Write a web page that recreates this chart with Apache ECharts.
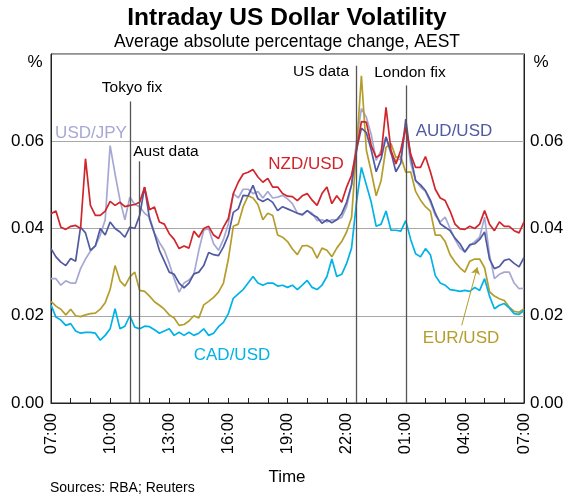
<!DOCTYPE html>
<html style="height: 100%">
<head>
    <meta charset="utf-8">
    <title>Intraday US Dollar Volatility</title>
    <script src="https://cdn.jsdelivr.net/npm/echarts@6/dist/echarts.min.js"></script>
    <style>
        html, body { margin: 0; padding: 0; background: #fff; }
        #container { width: 573px; height: 496px; }
    </style>
</head>
<body>
<div id="container"></div>
<script>
    // hours after 07:00 AEST, one point every 15 minutes
    var hours = [];
    for (var i = 0; i <= 96; i++) hours.push(i / 4);

    // average absolute percentage change
    var nzdUsd = [0.0434,0.044,0.0403,0.0398,0.0405,0.0407,0.04,0.056,0.0453,0.043,
        0.043,0.044,0.0462,0.0453,0.046,0.045,0.0453,0.0455,0.046,0.0495,
        0.0443,0.0449,0.0415,0.041,0.0388,0.0375,0.0354,0.036,0.0355,0.0394,
        0.038,0.04,0.0405,0.0385,0.0377,0.0403,0.0423,0.048,0.0506,0.0525,
        0.0529,0.0535,0.0518,0.0506,0.0515,0.0495,0.0495,0.048,0.0474,0.0473,
        0.0464,0.0475,0.048,0.0465,0.0453,0.048,0.0495,0.0457,0.0475,0.046,
        0.0495,0.0522,0.058,0.0645,0.0644,0.059,0.0563,0.057,0.0678,0.0579,
        0.0548,0.058,0.0632,0.057,0.054,0.054,0.0565,0.053,0.049,0.047,
        0.0464,0.044,0.041,0.0399,0.0398,0.0405,0.04,0.041,0.0441,0.041,
        0.0395,0.0415,0.0405,0.0405,0.0395,0.039,0.0415];
    var audUsd = [0.0354,0.0335,0.0323,0.0315,0.0331,0.0325,0.0403,0.039,0.035,0.036,
        0.04,0.0385,0.0415,0.04,0.0392,0.038,0.0403,0.04,0.043,0.0495,
        0.0422,0.0388,0.035,0.0325,0.03,0.0295,0.0275,0.0264,0.0275,0.0296,
        0.03,0.0315,0.0345,0.034,0.0338,0.0358,0.0385,0.0437,0.0445,0.0476,
        0.0475,0.0499,0.0468,0.0462,0.0468,0.046,0.0441,0.045,0.0445,0.044,
        0.0435,0.0432,0.0441,0.0432,0.0426,0.0412,0.042,0.0413,0.042,0.0434,
        0.046,0.05,0.058,0.063,0.062,0.058,0.053,0.056,0.061,0.0575,
        0.053,0.055,0.0651,0.0565,0.051,0.05,0.0487,0.0465,0.0435,0.0411,
        0.0403,0.0395,0.0378,0.0365,0.0346,0.0363,0.0365,0.0375,0.0392,0.033,
        0.0308,0.0313,0.0327,0.033,0.032,0.0312,0.0334];
    var usdJpy = [0.0285,0.0285,0.027,0.028,0.0275,0.0275,0.0308,0.033,0.0348,0.036,
        0.0385,0.042,0.059,0.0525,0.0465,0.042,0.0472,0.0455,0.045,0.0435,
        0.0426,0.039,0.0368,0.035,0.032,0.0285,0.0254,0.0275,0.0282,0.0295,
        0.035,0.0396,0.04,0.0365,0.035,0.0375,0.0411,0.048,0.047,0.049,
        0.049,0.048,0.0485,0.047,0.0485,0.047,0.0472,0.0476,0.0468,0.0457,
        0.0435,0.043,0.0441,0.0435,0.0418,0.042,0.0415,0.042,0.042,0.0425,
        0.045,0.05,0.06,0.0675,0.0655,0.0615,0.0556,0.0579,0.061,0.057,
        0.0556,0.056,0.0632,0.055,0.051,0.0495,0.0485,0.046,0.043,0.0415,
        0.0426,0.04,0.0375,0.0355,0.0346,0.036,0.037,0.038,0.0426,0.034,
        0.0285,0.0295,0.03,0.03,0.0275,0.0262,0.0263];
    var eurUsd = [0.0233,0.0222,0.0215,0.0202,0.0215,0.02,0.0198,0.0202,0.0205,0.0206,
        0.0215,0.023,0.026,0.0315,0.028,0.0268,0.0289,0.03,0.0258,0.0256,
        0.0245,0.0232,0.0224,0.0215,0.0202,0.0195,0.0178,0.018,0.0188,0.02,
        0.0195,0.0225,0.0233,0.0242,0.0254,0.0275,0.033,0.0405,0.041,0.045,
        0.0475,0.047,0.0455,0.042,0.0435,0.043,0.0385,0.038,0.037,0.0353,
        0.034,0.036,0.0361,0.0355,0.0332,0.0355,0.035,0.0335,0.0355,0.037,
        0.0392,0.0425,0.058,0.075,0.058,0.053,0.0475,0.051,0.0586,0.0595,
        0.0563,0.0565,0.0529,0.053,0.0485,0.0465,0.045,0.044,0.0385,0.0385,
        0.037,0.034,0.0323,0.031,0.03,0.0325,0.033,0.033,0.031,0.0255,
        0.0245,0.0239,0.0235,0.022,0.021,0.0208,0.0216];
    var cadUsd = [0.0225,0.0197,0.019,0.0178,0.0182,0.0165,0.016,0.0162,0.0162,0.016,
        0.0144,0.0155,0.017,0.0216,0.017,0.0176,0.02,0.0174,0.017,0.0176,
        0.0175,0.0168,0.016,0.0165,0.017,0.0155,0.0162,0.0155,0.0162,0.0155,
        0.016,0.017,0.0155,0.016,0.0175,0.0185,0.0205,0.024,0.025,0.026,
        0.0275,0.029,0.0275,0.027,0.0275,0.0275,0.0268,0.027,0.0265,0.027,
        0.026,0.027,0.0281,0.0265,0.026,0.027,0.029,0.033,0.029,0.0295,
        0.032,0.0355,0.046,0.054,0.05,0.046,0.0405,0.041,0.044,0.0396,
        0.0396,0.0394,0.0418,0.0375,0.0342,0.0335,0.0354,0.034,0.0292,0.0275,
        0.027,0.026,0.0258,0.0256,0.0258,0.0256,0.0265,0.0258,0.0285,0.0245,
        0.0216,0.0224,0.0228,0.0218,0.0205,0.0203,0.0212];

    // event markers: hours after 07:00 and where each line starts
    var eventNames = ['Tokyo fix', 'Aust data', 'US data', 'London fix'];
    var eventHours = [4, 4.5, 15.5, 18];
    var eventTops = [0.0691, 0.0554, 0.0773, 0.0728];

    var yTicks = [0, 0.02, 0.04, 0.06, 0.08];

    var font = "'Liberation Sans', Arial, sans-serif";

    function pairs(vals) {
        return vals.map(function (v, k) { return [hours[k], v]; });
    }
    function hourLabel(v) {
        if (v % 3 !== 0) return '';
        var h = (7 + v) % 24;
        return (h < 10 ? '0' : '') + h + ':00';
    }
    function yLabel(v) {
        if (Math.abs(v - yTicks[yTicks.length - 1]) < 1e-9) return '';
        return v.toFixed(2);
    }

    var seriesDefs = [
        {name: 'USD/JPY', data: usdJpy, color: '#a6a8d4'},
        {name: 'EUR/USD', data: eurUsd, color: '#b59d2c'},
        {name: 'CAD/USD', data: cadUsd, color: '#00b2e6'},
        {name: 'AUD/USD', data: audUsd, color: '#505aa0'},
        {name: 'NZD/USD', data: nzdUsd, color: '#d1242b'}
    ];

    var series = seriesDefs.map(function (s) {
        return {
            name: s.name,
            type: 'line',
            data: pairs(s.data),
            showSymbol: false,
            lineStyle: {color: s.color, width: 1.7},
            itemStyle: {color: s.color},
            silent: true
        };
    });

    // vertical event lines
    series.push({
        type: 'line',
        data: [],
        silent: true,
        markLine: {
            silent: true,
            symbol: ['none', 'none'],
            label: {show: false},
            lineStyle: {color: '#555', width: 1.3, type: 'solid'},
            data: eventHours.map(function (h, k) {
                return [{coord: [h, eventTops[k]]}, {coord: [h, 0]}];
            })
        }
    });
    // EUR/USD pointer arrow
    series.push({
        type: 'line',
        data: [],
        silent: true,
        markLine: {
            silent: true,
            symbol: ['none', 'arrow'],
            symbolSize: 7,
            label: {show: false},
            lineStyle: {color: '#b59d2c', width: 1, type: 'solid'},
            data: [[{coord: [20.84, 0.0178]}, {coord: [21.63, 0.0311]}]]
        }
    });

    function txt(text, x, y, size, color, weight) {
        return {
            type: 'text', x: x, y: y, silent: true,
            style: {
                text: text, fill: color || '#000', textAlign: 'center', textVerticalAlign: 'middle',
                font: (weight || 'normal') + ' ' + size + 'px ' + font
            }
        };
    }

    var myChart = echarts.init(document.getElementById('container'));
    var option = {
        animation: false,
        backgroundColor: '#fff',
        grid: {left: 51, right: 49, top: 54, bottom: 93, show: true, borderColor: '#222', borderWidth: 1},
        xAxis: {
            type: 'value', min: 0, max: 24, interval: 1,
            axisLine: {show: true, lineStyle: {color: '#222', width: 1}},
            axisTick: {show: true, inside: true, length: 5, lineStyle: {color: '#222'}},
            splitLine: {show: false},
            axisLabel: {
                rotate: 90, margin: 10, fontSize: 16.5, color: '#000', fontFamily: font,
                formatter: hourLabel
            }
        },
        yAxis: [
            {
                type: 'value', min: 0, max: 0.08, interval: 0.02, position: 'left',
                axisLine: {show: true, lineStyle: {color: '#222'}},
                axisTick: {show: false},
                splitLine: {show: true, lineStyle: {color: '#a8a8a8', width: 1}},
                axisLabel: {margin: 7, fontSize: 17, color: '#000', fontFamily: font, formatter: yLabel}
            },
            {
                type: 'value', min: 0, max: 0.08, interval: 0.02, position: 'right',
                axisLine: {show: true, lineStyle: {color: '#222'}},
                axisTick: {show: false},
                splitLine: {show: false},
                axisLabel: {margin: 6, fontSize: 17, color: '#000', fontFamily: font, formatter: yLabel}
            }
        ],
        series: series,
        graphic: [
            txt('Intraday US Dollar Volatility', 287, 18, 24.5, '#000', 'bold'),
            txt('Average absolute percentage change, AEST', 287, 42, 17.5),
            txt('%', 35, 62, 17),
            txt('%', 541, 62, 17),
            txt(eventNames[0], 132, 88, 15.5),
            txt(eventNames[1], 166, 152, 15.5),
            txt(eventNames[2], 321, 72, 15.5),
            txt(eventNames[3], 410, 73, 15.5),
            txt('USD/JPY', 91, 133, 17, '#a6a8d4'),
            txt('NZD/USD', 306, 164, 17, '#d1242b'),
            txt('AUD/USD', 454, 131, 17, '#505aa0'),
            txt('CAD/USD', 232, 355, 17, '#00b2e6'),
            txt('EUR/USD', 461, 338, 17, '#b59d2c'),
            txt('Time', 287, 477, 17),
            {
                type: 'text', x: 50, y: 488, silent: true,
                style: {text: 'Sources: RBA; Reuters', fill: '#000', textAlign: 'left',
                    textVerticalAlign: 'middle', font: 'normal 14px ' + font}
            }
        ]
    };
    myChart.setOption(option);
</script>
</body>
</html>
